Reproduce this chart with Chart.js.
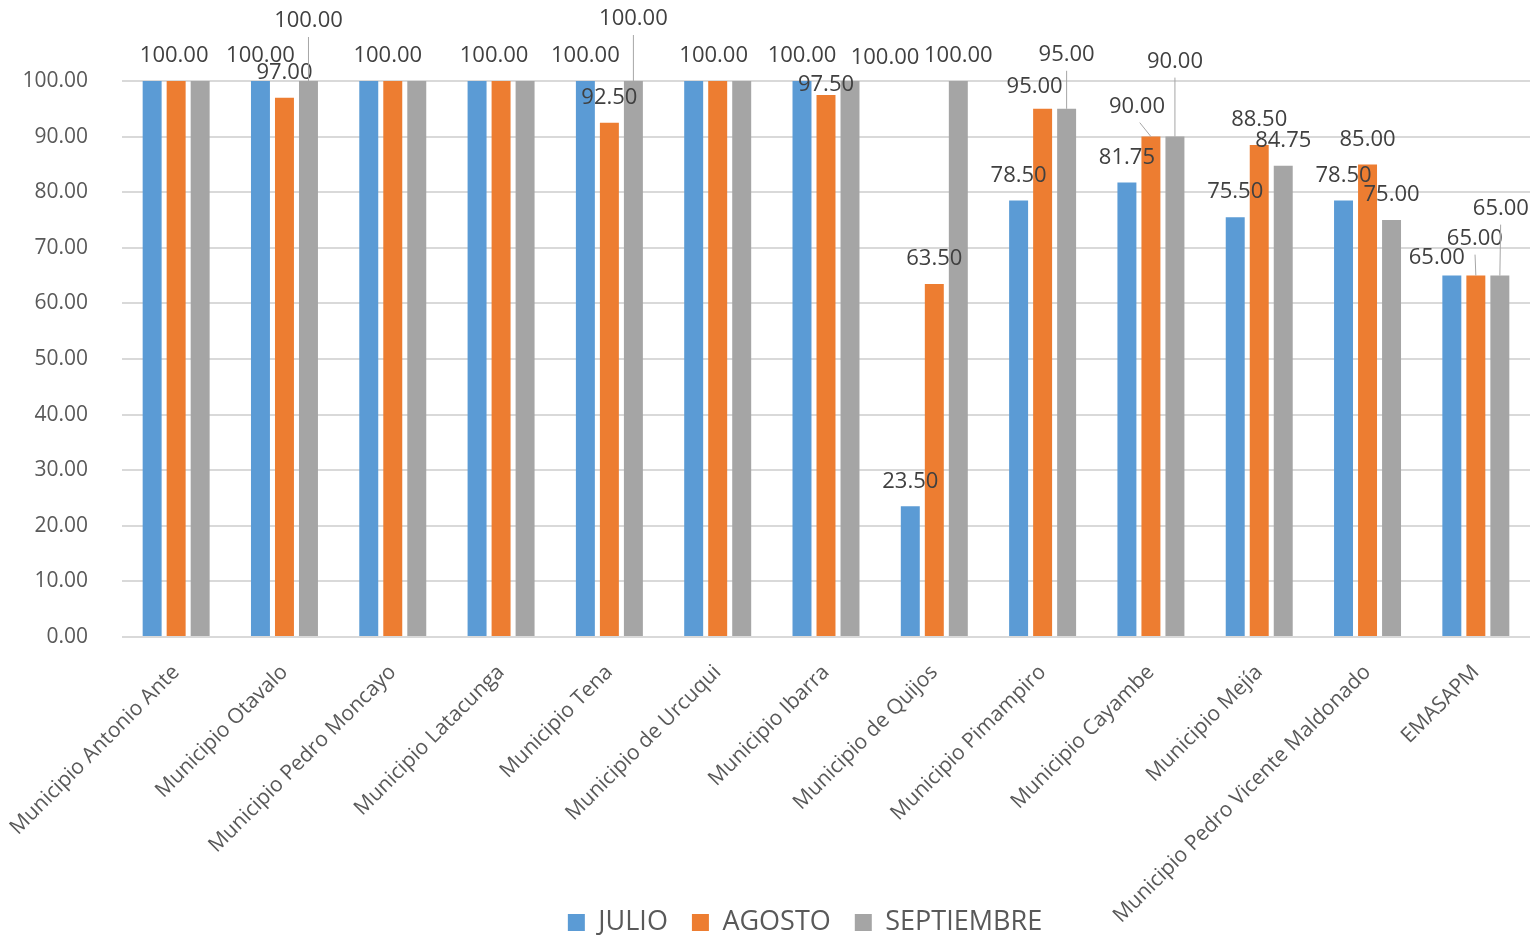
<!DOCTYPE html>
<html>
<head>
<meta charset="utf-8">
<script src="https://cdn.jsdelivr.net/npm/chart.js@4.4.1/dist/chart.umd.min.js"></script>
<style>
  html, body { margin: 0; background: #fff; }
  #wrap { width: 1533px; height: 936px; }
</style>
</head>
<body>
<div id="wrap"><canvas id="chart"></canvas></div>
<script>
// ── data ──
const categories = [
  'Municipio Antonio Ante', 'Municipio Otavalo', 'Municipio Pedro Moncayo',
  'Municipio Latacunga', 'Municipio Tena', 'Municipio de Urcuqui',
  'Municipio Ibarra', 'Municipio de Quijos', 'Municipio Pimampiro',
  'Municipio Cayambe', 'Municipio Mejía', 'Municipio Pedro Vicente Maldonado',
  'EMASAPM'
];
const julio      = [100, 100, 100, 100, 100, 100, 100, 23.5, 78.5, 81.75, 75.5, 78.5, 65];
const agosto     = [100, 97, 100, 100, 92.5, 100, 97.5, 63.5, 95, 90, 88.5, 85, 65];
const septiembre = [100, 100, 100, 100, 100, 100, 100, 100, 95, 90, 84.75, 75, 65];
const yTicks = [0, 10, 20, 30, 40, 50, 60, 70, 80, 90, 100];

// label nudges as in the original (null = default, 'hide' = label removed, [dx, dy, leader])
const julioLbl = ['hide', null, 'hide', 'hide', null, 'hide', null, null, null, null, null, null, [-15, 7]];
const agostoLbl = [[-2, 0], null, [-5, 0], [-7, 0], null, [-4, 0], [0, 15], null, [-8, 3], [-14, -5, 1], null, null, [-1, -12, 1]];
const septLbl = ['hide', [0, -35, 1], 'hide', 'hide', [0, -37, 1], 'hide', [35, 2], null, [0, -29, 1], [0, -50, 1], null, null, [1, -42, 1]];
const lblAdjust = [julioLbl, agostoLbl, septLbl];

Chart.defaults.font.family = '"Open Sans", "DejaVu Sans", sans-serif';

const valueLabels = {
  id: 'valueLabels',
  afterDatasetsDraw(chart) {
    const ctx = chart.ctx;
    ctx.save();
    ctx.font = '22px "Open Sans", sans-serif';
    ctx.fillStyle = '#404040';
    ctx.textAlign = 'center';
    ctx.textBaseline = 'middle';
    chart.data.datasets.forEach((ds, di) => {
      const meta = chart.getDatasetMeta(di);
      meta.data.forEach((bar, i) => {
        const adj = lblAdjust[di][i];
        if (adj === 'hide') return;
        const dx = adj ? adj[0] : 0, dy = adj ? adj[1] : 0;
        const lx = bar.x + dx, ly = bar.y - 25 + dy;
        if (adj && adj[2]) {
          ctx.strokeStyle = '#a6a6a6';
          ctx.lineWidth = 1;
          ctx.beginPath();
          ctx.moveTo(lx + (bar.x - lx) * 0.2, ly + 16);
          ctx.lineTo(bar.x, bar.y);
          ctx.stroke();
        }
        ctx.fillText(ds.data[i].toFixed(2), lx, ly);
      });
    });
    ctx.restore();
  }
};

// legend sits centred a bit right of the canvas middle, long x labels run past the axis box
const layoutTweak = {
  id: 'layoutTweak',
  afterLayout(chart) {
    chart.legend.left = 80;
    chart.scales.x.bottom = chart.height;
  }
};

new Chart(document.getElementById('chart'), {
  type: 'bar',
  data: {
    labels: categories,
    datasets: [
      { label: 'JULIO', data: julio, backgroundColor: '#5b9bd5' },
      { label: 'AGOSTO', data: agosto, backgroundColor: '#ed7d31' },
      { label: 'SEPTIEMBRE', data: septiembre, backgroundColor: '#a5a5a5' }
    ]
  },
  options: {
    responsive: true,
    maintainAspectRatio: false,
    animation: false,
    devicePixelRatio: 1,
    layout: { padding: { top: 81, right: 3, left: 0, bottom: -10 } },
    datasets: { bar: { categoryPercentage: 0.665, barPercentage: 0.79 } },
    plugins: {
      legend: {
        position: 'bottom',
        labels: {
          color: '#595959',
          font: { size: 27 },
          boxWidth: 17,
          boxHeight: 17,
          padding: 24
        }
      },
      tooltip: { enabled: false }
    },
    scales: {
      x: {
        grid: { display: false },
        border: { display: false },
        ticks: {
          color: '#595959',
          font: { size: 21 },
          minRotation: 45,
          maxRotation: 45,
          autoSkip: false,
          padding: 15
        },
        afterFit(scale) {
          scale.height = 248;
          scale.paddingLeft = 0;
          scale.paddingRight = 0;
        }
      },
      y: {
        min: 0,
        max: 100,
        grid: { color: '#d9d9d9', lineWidth: 2, drawTicks: false },
        border: { display: false },
        afterBuildTicks(scale) { scale.ticks = yTicks.map(v => ({ value: v })); },
        ticks: {
          color: '#595959',
          font: { size: 21 },
          padding: 34,
          callback: v => Number(v).toFixed(2)
        },
        afterFit(scale) { scale.width = 122; }
      }
    }
  },
  plugins: [valueLabels, layoutTweak]
});
</script>
</body>
</html>
